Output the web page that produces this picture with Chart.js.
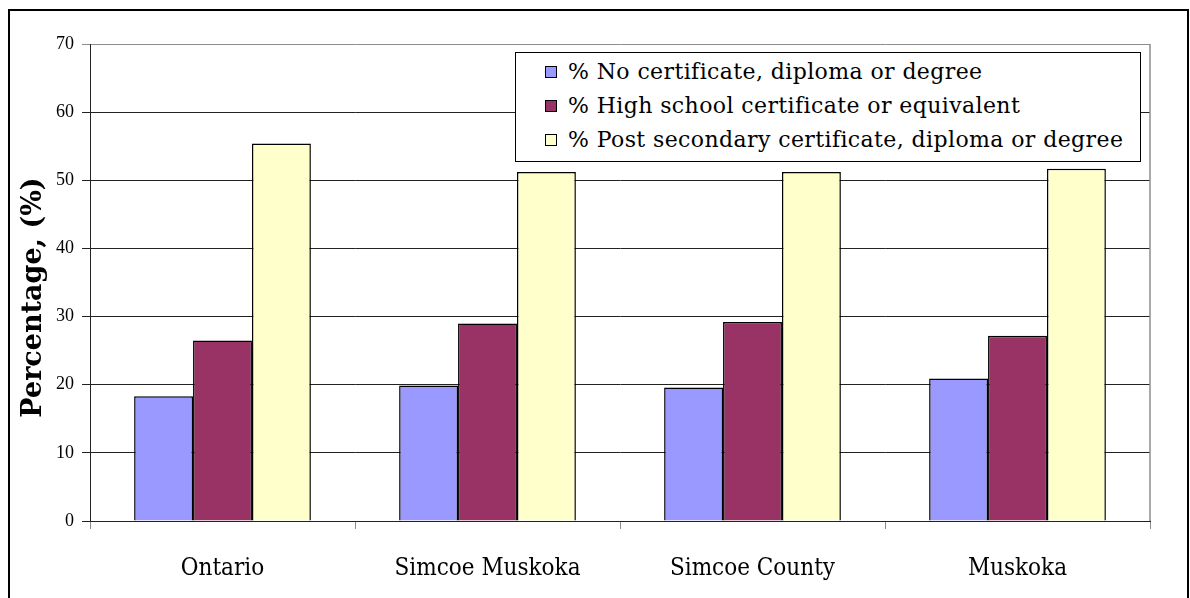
<!DOCTYPE html>
<html>
<head>
<meta charset="utf-8">
<title>Educational attainment</title>
<script src="https://cdn.jsdelivr.net/npm/chart.js@4/dist/chart.umd.min.js"></script>
<style>
  html, body { margin: 0; padding: 0; background: #fff; overflow: hidden; }
  #wrap { position: relative; width: 1190px; height: 598px; }
  #frame {
    position: absolute; left: 8px; top: 9px; width: 1181px; height: 600px;
    border: 2px solid #000; border-bottom: none; box-sizing: border-box; pointer-events: none;
  }
  #legend {
    position: absolute; left: 515px; top: 52px; width: 626px; height: 110px;
    box-sizing: border-box; border: 1px solid #000; background: #fff;
    padding-top: 2px;
    font-family: 'DejaVu Serif', serif; font-size: 22px; letter-spacing: 0.4px; color: #000;
  }
  #legend .row { height: 34px; line-height: 34px; display: flex; align-items: center; white-space: nowrap; }
  #legend .box { width: 12px; height: 12px; border: 1px solid #000; box-sizing: border-box; margin-left: 29px; margin-right: 11px; }
</style>
</head>
<body>
<div id="wrap">
  <canvas id="eduChart" width="1190" height="598"></canvas>
  <div id="legend"></div>
  <div id="frame"></div>
</div>
<script>
// Highest level of education, population aged 25-64 (%)
const categories = ['Ontario', 'Simcoe Muskoka', 'Simcoe County', 'Muskoka'];
const seriesLabels = [
    '% No certificate, diploma or degree',
    '% High school certificate or equivalent',
    '% Post secondary certificate, diploma or degree'
];
const noCertificate = [18.3, 19.9, 19.6, 20.9];
const highSchool = [26.5, 29.0, 29.2, 27.2];
const postSecondary = [55.4, 51.2, 51.2, 51.7];
const yTicks = [0, 10, 20, 30, 40, 50, 60, 70];
const yTitle = 'Percentage, (%)';

const seriesColors = ['#9999ff', '#993366', '#ffffcc'];
const seriesValues = [noCertificate, highSchool, postSecondary];

// legend box sits inside the plot area, built from the same series
const legendEl = document.getElementById('legend');
seriesLabels.forEach((label, i) => {
    const row = document.createElement('div');
    row.className = 'row';
    const box = document.createElement('span');
    box.className = 'box';
    box.style.background = seriesColors[i];
    const text = document.createElement('span');
    text.textContent = label;
    row.appendChild(box);
    row.appendChild(text);
    legendEl.appendChild(row);
});

// grey frame on the right edge of the plot area
const plotFrame = {
    id: 'plotFrame',
    beforeDatasetsDraw(chart) {
        const { ctx, chartArea } = chart;
        ctx.save();
        ctx.strokeStyle = '#8c8c8c';
        ctx.lineWidth = 1.5;
        ctx.beginPath();
        ctx.moveTo(chartArea.right, chartArea.top);
        ctx.lineTo(chartArea.right, chartArea.bottom);
        ctx.stroke();
        ctx.restore();
    }
};

// y axis title, sitting a little below the middle of the axis
const axisTitle = {
    id: 'axisTitle',
    afterDraw(chart) {
        const { ctx, chartArea } = chart;
        const midY = (chartArea.top + chartArea.bottom) / 2 + 15;
        ctx.save();
        ctx.translate(34, midY);
        ctx.rotate(-Math.PI / 2);
        ctx.font = "bold 27px 'DejaVu Serif', serif";
        ctx.fillStyle = '#000';
        ctx.textAlign = 'center';
        ctx.textBaseline = 'middle';
        ctx.fillText(yTitle, 0, 0);
        ctx.restore();
    }
};

const ctx = document.getElementById('eduChart').getContext('2d');

new Chart(ctx, {
    type: 'bar',
    data: {
        labels: categories,
        datasets: seriesValues.map((values, i) => ({
            label: seriesLabels[i],
            data: values,
            backgroundColor: seriesColors[i],
            borderColor: '#000',
            borderWidth: 1.5,
            barPercentage: 1,
            categoryPercentage: 0.667
        }))
    },
    options: {
        responsive: false,
        animation: false,
        layout: {
            padding: { top: 44, right: 40, left: 0, bottom: 0 }
        },
        plugins: {
            legend: { display: false },
            tooltip: { enabled: false }
        },
        scales: {
            x: {
                offset: true,
                grid: {
                    drawOnChartArea: false,
                    drawTicks: true,
                    tickLength: 8,
                    color: '#8c8c8c',
                    offset: true
                },
                border: { color: '#222', width: 1 },
                ticks: {
                    color: '#000',
                    padding: 25,
                    font: { family: "'DejaVu Serif Condensed', 'DejaVu Serif'", size: 24 }
                },
                afterFit: scale => { scale.height = 77; }
            },
            y: {
                min: 0,
                max: 70,
                afterBuildTicks: scale => {
                    scale.ticks = yTicks.map(v => ({ value: v }));
                },
                grid: {
                    color: c => (c.tick && c.tick.value === 70 ? '#8c8c8c' : '#222'),
                    lineWidth: 1,
                    tickLength: 8
                },
                border: { color: '#222', width: 1 },
                ticks: {
                    color: '#000',
                    padding: 8,
                    font: { family: "'Liberation Serif', serif", size: 18 }
                },
                afterFit: scale => { scale.width = 90; }
            }
        }
    },
    plugins: [plotFrame, axisTitle]
});
</script>
</body>
</html>
